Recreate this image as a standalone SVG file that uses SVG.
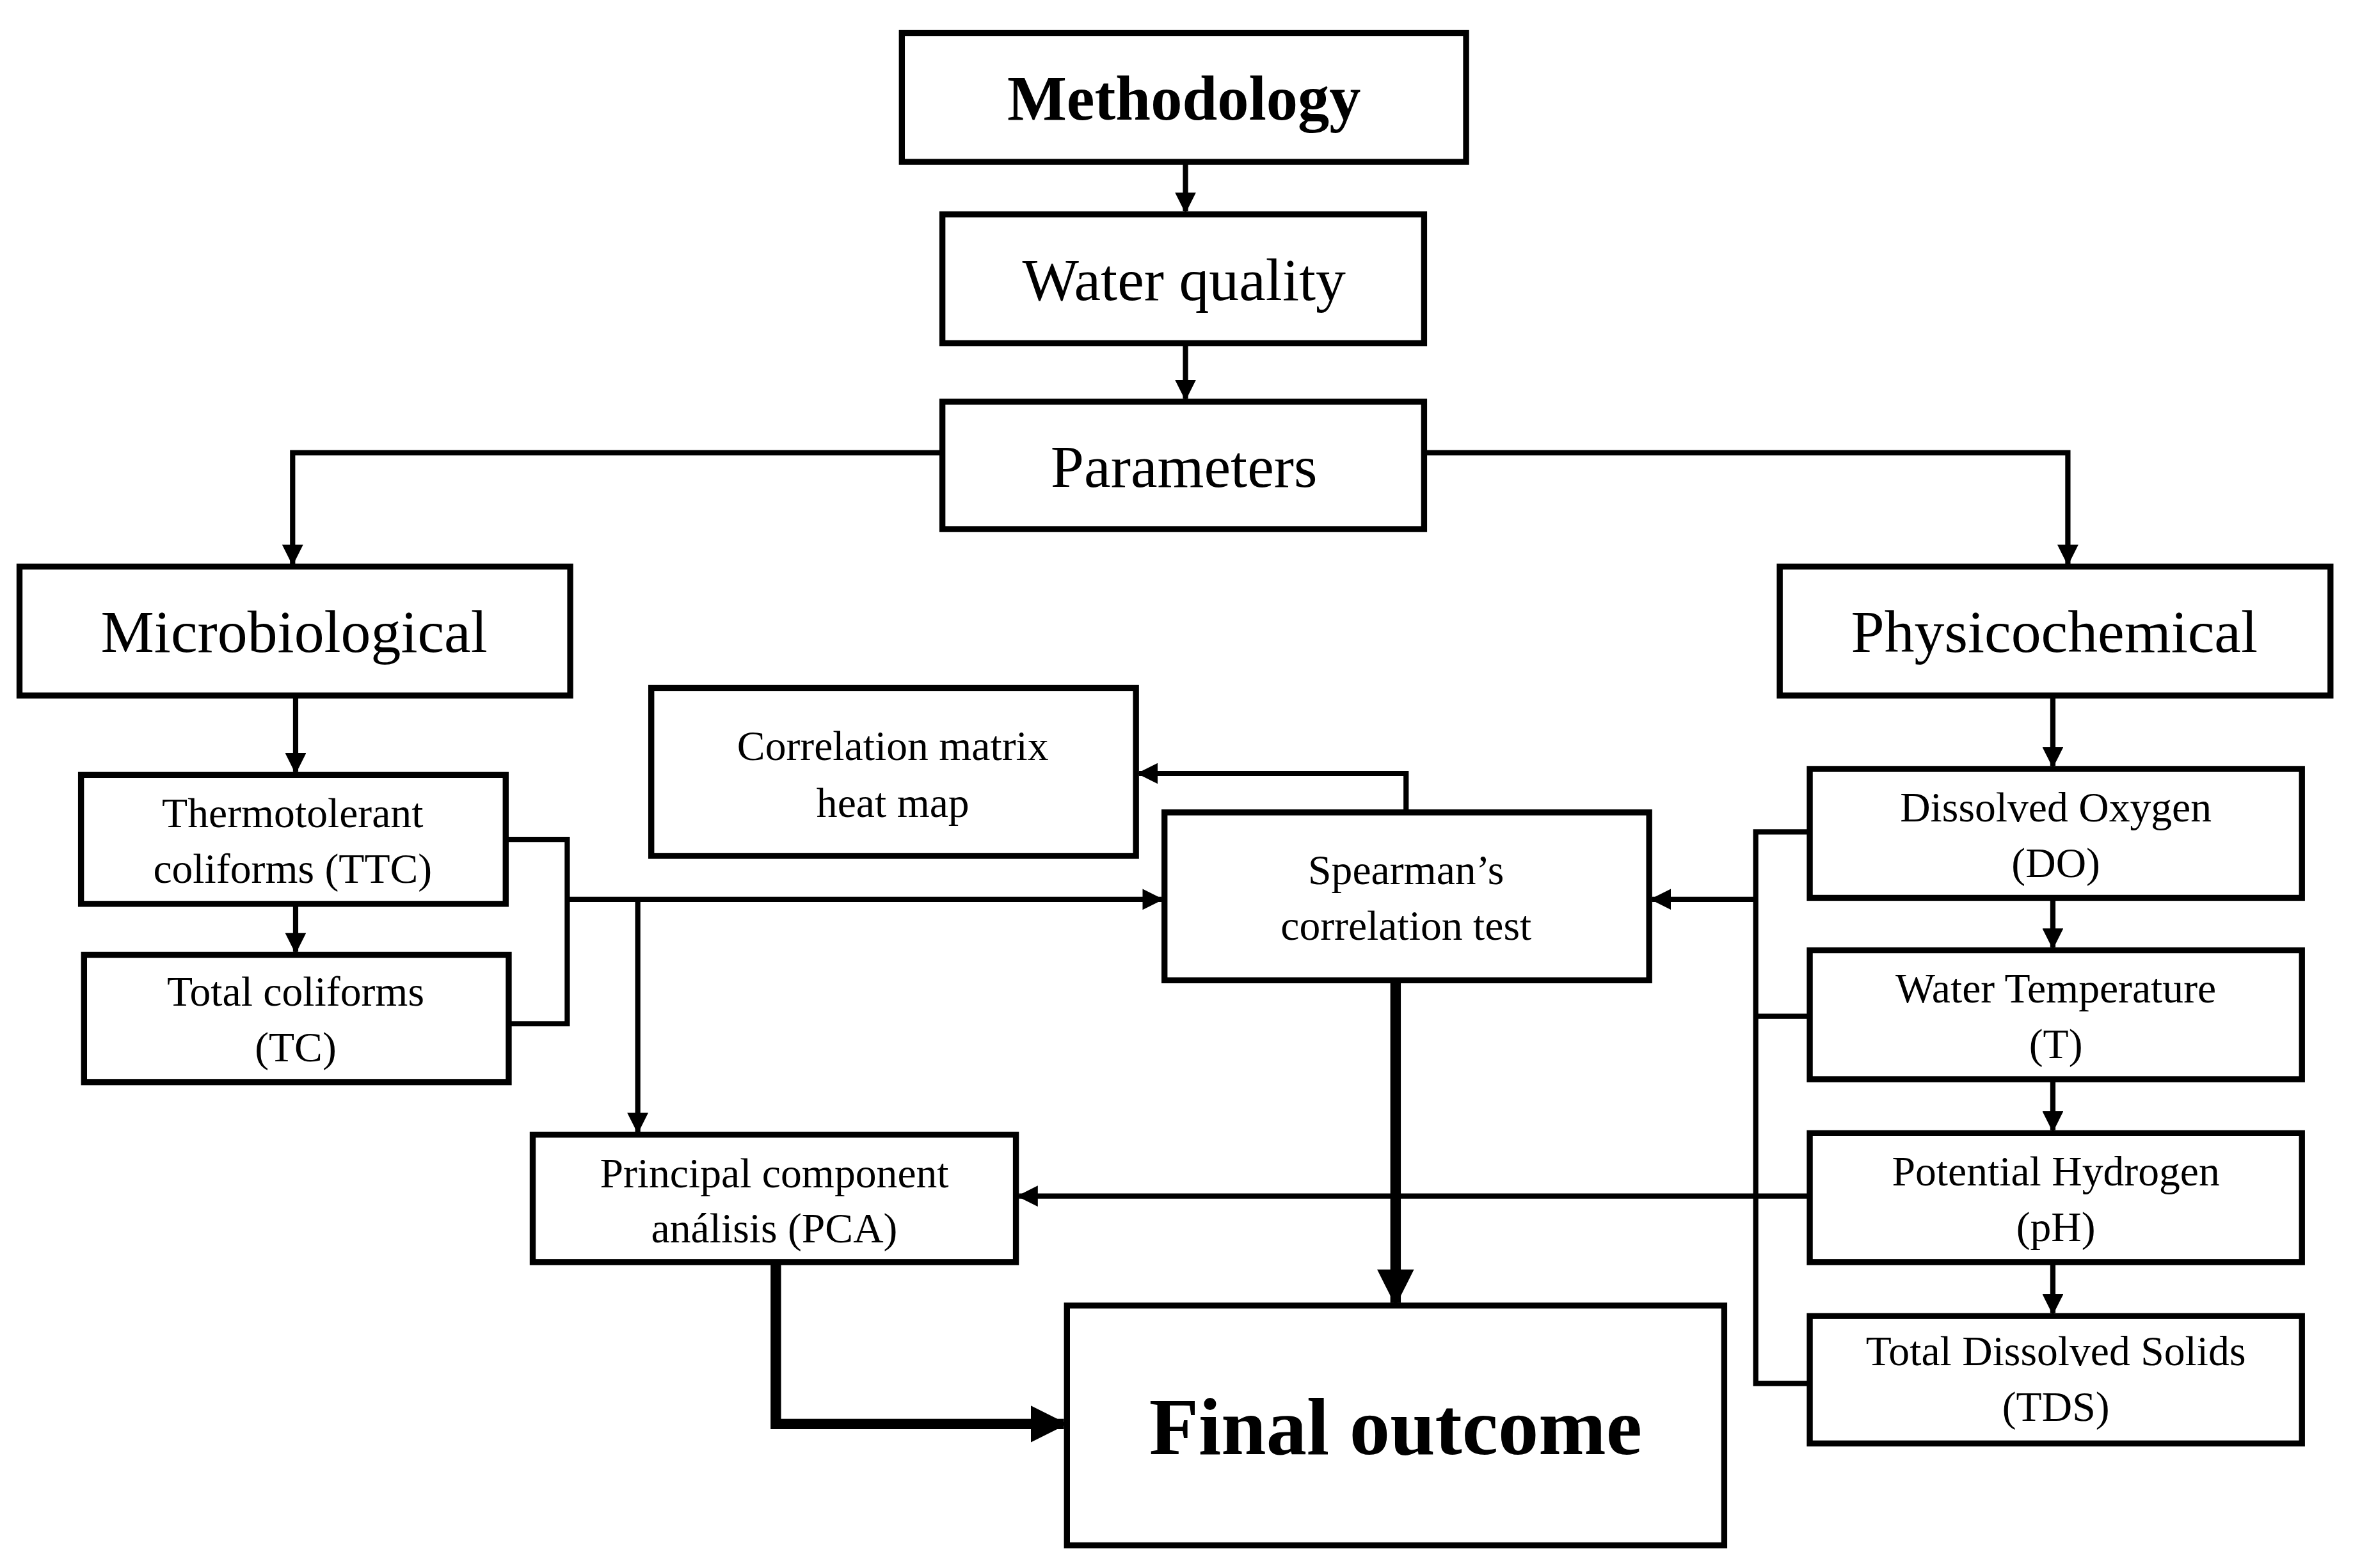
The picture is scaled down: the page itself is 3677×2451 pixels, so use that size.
<svg xmlns="http://www.w3.org/2000/svg" width="3677" height="2451" viewBox="0 0 3677 2451">
<defs>
<style>
.b{fill:#fff;stroke:#000;stroke-width:4}
.t{font-family:"Liberation Serif",serif;fill:#000;text-anchor:middle}
.l{fill:none;stroke:#000;stroke-width:3.5}
.k{fill:none;stroke:#000;stroke-width:7}
</style>
<marker id="a" viewBox="0 0 10 10" refX="9" refY="5" markerWidth="4" markerHeight="4" orient="auto" markerUnits="strokeWidth"><path d="M0,0L10,5L0,10z" fill="#000"/></marker>
<marker id="ak" viewBox="0 0 10 10" refX="9" refY="5" markerWidth="3.5" markerHeight="3.5" orient="auto" markerUnits="strokeWidth"><path d="M0,0L10,5L0,10z" fill="#000"/></marker>
</defs>
<rect width="3677" height="2451" fill="#fff"/>
<g transform="scale(2.345,2.343)">
<g id="connectors">
<path class="l" d="M790,108V141" marker-end="url(#a)"/>
<path class="l" d="M790,229V266" marker-end="url(#a)"/>
<path class="l" d="M628,302H195V376" marker-end="url(#a)"/>
<path class="l" d="M949,302H1378V376" marker-end="url(#a)"/>
<path class="l" d="M197,464V515" marker-end="url(#a)"/>
<path class="l" d="M197,603V635" marker-end="url(#a)"/>
<path class="l" d="M337,560H378V683H339"/>
<path class="l" d="M378,600H774" marker-end="url(#a)"/>
<path class="l" d="M425,600V755" marker-end="url(#a)"/>
<path class="l" d="M1368,464V511" marker-end="url(#a)"/>
<path class="l" d="M1368,599V632" marker-end="url(#a)"/>
<path class="l" d="M1368,720V754" marker-end="url(#a)"/>
<path class="l" d="M1368,842V876" marker-end="url(#a)"/>
<path class="l" d="M1206,555H1170V923H1206M1170,678H1206"/>
<path class="l" d="M1170,600H1101" marker-end="url(#a)"/>
<path class="l" d="M1206,798H679" marker-end="url(#a)"/>
<path class="l" d="M937,542V516H759" marker-end="url(#a)"/>
<path class="k" d="M930,654V869" marker-end="url(#ak)"/>
<path class="k" d="M517,842V950H709" marker-end="url(#ak)"/>
</g>
<g id="methodology"><rect class="b" x="601" y="22" width="376" height="86"/><text class="t" x="789" y="80" font-size="42" font-weight="bold">Methodology</text></g>
<g id="water"><rect class="b" x="628" y="143" width="321" height="86"/><text class="t" x="789" y="200" font-size="40">Water quality</text></g>
<g id="parameters"><rect class="b" x="628" y="268" width="321" height="85"/><text class="t" x="789" y="325" font-size="40">Parameters</text></g>
<g id="micro"><rect class="b" x="13" y="378" width="367" height="86"/><text class="t" x="196" y="435" font-size="40">Microbiological</text></g>
<g id="physico"><rect class="b" x="1186" y="378" width="367" height="86"/><text class="t" x="1369" y="435" font-size="40">Physicochemical</text></g>
<g id="corr"><rect class="b" x="434" y="459" width="323" height="112"/><text class="t" x="595" y="507" font-size="28">Correlation matrix</text><text class="t" x="595" y="545" font-size="28">heat map</text></g>
<g id="spearman"><rect class="b" x="776" y="542" width="323" height="112"/><text class="t" x="937" y="590" font-size="28">Spearman’s</text><text class="t" x="937" y="627" font-size="28">correlation test</text></g>
<g id="ttc"><rect class="b" x="54" y="517" width="283" height="86"/><text class="t" x="195" y="552" font-size="28">Thermotolerant</text><text class="t" x="195" y="589" font-size="28">coliforms (TTC)</text></g>
<g id="tc"><rect class="b" x="56" y="637" width="283" height="85"/><text class="t" x="197" y="671" font-size="28">Total coliforms</text><text class="t" x="197" y="708" font-size="28">(TC)</text></g>
<g id="do"><rect class="b" x="1206" y="513" width="328" height="86"/><text class="t" x="1370" y="548" font-size="28">Dissolved Oxygen</text><text class="t" x="1370" y="585" font-size="28">(DO)</text></g>
<g id="wt"><rect class="b" x="1206" y="634" width="328" height="86"/><text class="t" x="1370" y="669" font-size="28">Water Temperature</text><text class="t" x="1370" y="706" font-size="28">(T)</text></g>
<g id="ph"><rect class="b" x="1206" y="756" width="328" height="86"/><text class="t" x="1370" y="791" font-size="28">Potential Hydrogen</text><text class="t" x="1370" y="828" font-size="28">(pH)</text></g>
<g id="tds"><rect class="b" x="1206" y="878" width="328" height="85"/><text class="t" x="1370" y="911" font-size="28">Total Dissolved Solids</text><text class="t" x="1370" y="948" font-size="28">(TDS)</text></g>
<g id="pca"><rect class="b" x="355" y="757" width="322" height="85"/><text class="t" x="516" y="792" font-size="28">Principal component</text><text class="t" x="516" y="829" font-size="28">análisis (PCA)</text></g>
<g id="final"><rect class="b" x="711" y="871" width="438" height="160"/><text class="t" x="930" y="970" font-size="54" font-weight="bold">Final outcome</text></g>
</g>
</svg>
